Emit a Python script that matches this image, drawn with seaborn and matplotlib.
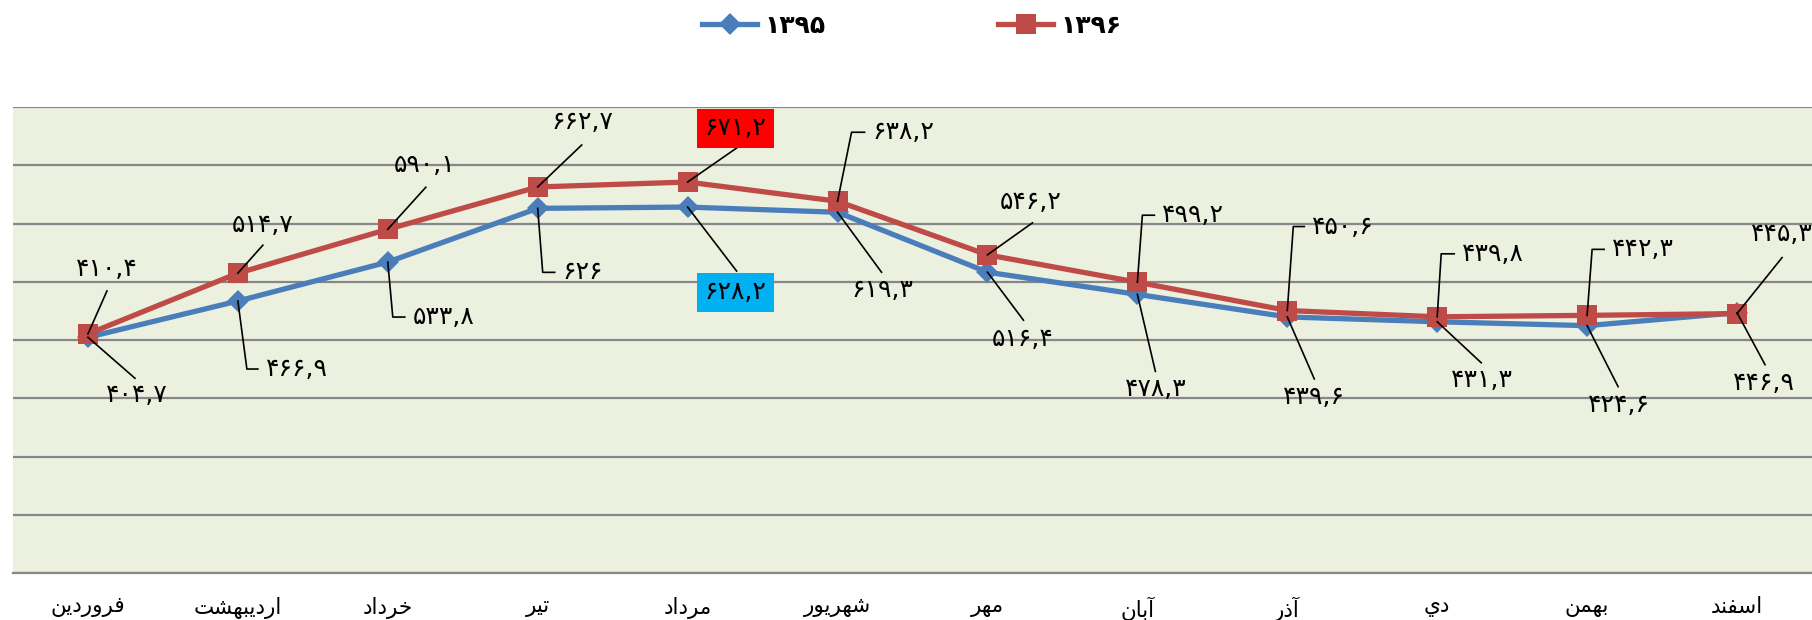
import matplotlib
matplotlib.use("Agg")
import matplotlib.pyplot as plt
from matplotlib.lines import Line2D
from matplotlib.transforms import IdentityTransform
import seaborn as sns
import numpy as np

# ---------------- data ----------------
months = ["فروردین", "اردیبهشت", "خرداد", "تیر", "مرداد", "شهریور",
          "مهر", "آبان", "آذر", "دي", "بهمن", "اسفند"]
series_names = ["۱۳۹۵", "۱۳۹۶"]
values_1395 = [404.7, 466.9, 533.8, 626.0, 628.2, 619.3, 516.4, 478.3, 439.6, 431.3, 424.6, 446.9]
values_1396 = [410.4, 514.7, 590.1, 662.7, 671.2, 638.2, 546.2, 499.2, 450.6, 439.8, 442.3, 445.3]

# ------------- label layout (pixel offsets from the point, y downward) -------------
# (text_dx, text_dy, end_dx, end_dy, elbow_dx, elbow_dy or None)
lab_1396 = [
    (19, -65, 19, -43, None), (25, -48, 25, -28, None), (37, -64, 38, -42, None),
    (45, -65, 44, -42, None), (48, -54, 49, -34, None), (None, -69, 27, -69, (14, -69)),
    (43, -53, 45, -32, None), (None, -67, 17, -67, (5, -67)), (None, -84, 17, -84, (6, -84)),
    (None, -63, 17, -63, (4, -63)), (None, -66, 17, -66, (5, -66)), (45, -80, 45, -56, None),
]
lab_1395 = [
    (49, 58, 47, 41, None), (None, 68, 20, 68, (9, 68)), (None, 55, 17, 55, (5, 55)),
    (None, 64, 17, 64, (5, 64)), (48, 85, 49, 64, None), (45, 78, 44, 60, None),
    (35, 67, 36, 48, None), (18, 95, 18, 77, None), (27, 80, 27, 62, None),
    (45, 58, 44, 41, None), (32, 79, 31, 61, None), (27, 70, 28, 52, None),
]
highlight = {("1396", 4): "#FF0000", ("1395", 4): "#00B0F0"}

# ---------------- Arabic shaping helpers ----------------
FORMS = {
    '\u0627': ('\uFE8D', '\uFE8E', None, None),
    '\u0622': ('\uFE81', '\uFE82', None, None),
    '\u0628': ('\uFE8F', '\uFE90', '\uFE91', '\uFE92'),
    '\u062A': ('\uFE95', '\uFE96', '\uFE97', '\uFE98'),
    '\u062E': ('\uFEA5', '\uFEA6', '\uFEA7', '\uFEA8'),
    '\u062F': ('\uFEA9', '\uFEAA', None, None),
    '\u0630': ('\uFEAB', '\uFEAC', None, None),
    '\u0631': ('\uFEAD', '\uFEAE', None, None),
    '\u0632': ('\uFEAF', '\uFEB0', None, None),
    '\u0633': ('\uFEB1', '\uFEB2', '\uFEB3', '\uFEB4'),
    '\u0634': ('\uFEB5', '\uFEB6', '\uFEB7', '\uFEB8'),
    '\u0641': ('\uFED1', '\uFED2', '\uFED3', '\uFED4'),
    '\u0645': ('\uFEE1', '\uFEE2', '\uFEE3', '\uFEE4'),
    '\u0646': ('\uFEE5', '\uFEE6', '\uFEE7', '\uFEE8'),
    '\u0647': ('\uFEE9', '\uFEEA', '\uFEEB', '\uFEEC'),
    '\u0648': ('\uFEED', '\uFEEE', None, None),
    '\u064A': ('\uFEF1', '\uFEF2', '\uFEF3', '\uFEF4'),
    '\u06CC': ('\uFEEF', '\uFEF0', '\uFEF3', '\uFEF4'),
}


def shape(word):
    out = []
    n = len(word)
    for i, ch in enumerate(word):
        iso, fin, ini, med = FORMS[ch]
        prev_j = i > 0 and FORMS[word[i - 1]][2] is not None
        next_j = ini is not None and i < n - 1
        if prev_j and next_j:
            f = med
        elif prev_j:
            f = fin
        elif next_j:
            f = ini
        else:
            f = iso
        out.append(f)
    return "".join(reversed(out))


PD = str.maketrans("0123456789.", "۰۱۲۳۴۵۶۷۸۹,")


def fa_num(v):
    return f"{v:g}".translate(PD)


# ---------------- figure ----------------
W, H = 1812, 620
fig = plt.figure(figsize=(W / 100, H / 100), dpi=100)
ax = fig.add_axes([13 / W, 1 - 573 / H, 1 - 13 / W, (573 - 107) / H])
ax.set_facecolor("#EBF0DF")
plt.rcParams["font.family"] = ["DejaVu Sans"]

x = np.arange(len(months))
blue = "#4A7EBB"
red = "#BE4B48"
sns.lineplot(x=x, y=values_1395, ax=ax, color=blue, lw=3.8, marker="D",
             markersize=11, markeredgewidth=0, zorder=3)
sns.lineplot(x=x, y=values_1396, ax=ax, color=red, lw=3.8, marker="s",
             markersize=14, markeredgewidth=0, zorder=4)

ax.set_xlim(-0.5, 11.5)
ax.set_ylim(0, 800)
ax.set_yticks(np.arange(0, 801, 100))
ax.set_yticklabels([])
ax.grid(axis="y", color="#878787", lw=1.6)
ax.grid(axis="x", visible=False)
ax.set_axisbelow(True)
for s in ["left", "right", "top"]:
    ax.spines[s].set_visible(False)
ax.spines["bottom"].set_color("#878787")
ax.spines["bottom"].set_linewidth(1.6)
ax.set_xticks(x)
ax.set_xticklabels([shape(m) for m in months], fontsize=15.5, family="DejaVu Sans")
ax.tick_params(axis="both", length=0)
ax.tick_params(axis="x", pad=17)
ax.set_xlabel("")
ax.set_ylabel("")
if ax.get_legend():
    ax.get_legend().remove()

# ---------------- data labels ----------------
fig.canvas.draw()
ident = IdentityTransform()


def add_labels(vals, layout, key):
    for i, (v, lay) in enumerate(zip(vals, layout)):
        tdx, tdy, edx, edy, elbow = lay
        px, py = ax.transData.transform((i, v))
        xs = [px]
        ys = [py]
        if elbow is not None:
            xs.append(px + elbow[0])
            ys.append(py - elbow[1])
        xs.append(px + edx)
        ys.append(py - edy)
        fig.add_artist(Line2D(xs, ys, transform=ident, color="black", lw=1.2, zorder=10))
        kw = dict(transform=ident, fontsize=18, va="center", color="black", zorder=11)
        if (key, i) in highlight:
            kw["bbox"] = dict(boxstyle="square,pad=0.3", fc=highlight[(key, i)], ec="none")
        if tdx is None:
            fig.text(px + edx + 8, py - tdy, fa_num(v), ha="left", **kw)
        else:
            fig.text(px + tdx, py - tdy, fa_num(v), ha="center", **kw)


add_labels(values_1395, lab_1395, "1395")
add_labels(values_1396, lab_1396, "1396")

# ---------------- legend ----------------
handles = [
    Line2D([], [], color=blue, lw=3.8, marker="D", markersize=11, markeredgewidth=0),
    Line2D([], [], color=red, lw=3.8, marker="s", markersize=14, markeredgewidth=0),
]
fig.legend(handles, series_names, loc="center", bbox_to_anchor=(912 / W, 1 - 26 / H),
           ncol=2, frameon=False, handlelength=2.2, columnspacing=6.9, handletextpad=0.3,
           prop=dict(size=18, weight="bold", family="DejaVu Sans"))

fig.savefig("out.png", dpi=100, facecolor="white")
